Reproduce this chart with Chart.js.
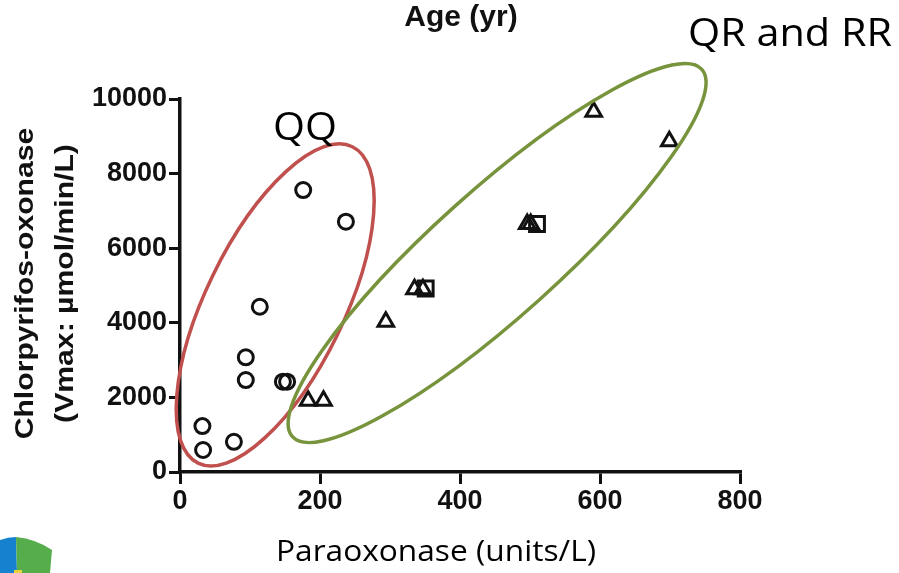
<!DOCTYPE html>
<html>
<head>
<meta charset="utf-8">
<script src="https://cdn.jsdelivr.net/npm/chart.js@4.4.1/dist/chart.umd.min.js"></script>
<style>
  html, body { margin: 0; padding: 0; background: #fff; }
</style>
</head>
<body>
<canvas id="chart" width="899" height="573"></canvas>
<script>
// QQ genotype (circles)
const qqX = [32, 33, 77, 94, 94, 114, 147, 153, 176, 237];
const qqY = [1230, 590, 810, 3075, 2465, 4430, 2420, 2420, 7560, 6710];
// QR genotype (triangles)
const qrX = [183, 205, 294, 335, 347, 496, 501, 591, 699];
const qrY = [1910, 1910, 4030, 4900, 4900, 6650, 6650, 9660, 8870];
// RR genotype (squares)
const rrX = [351, 510];
const rrY = [4920, 6650];

const xTicks = [0, 200, 400, 600, 800];
const yTicks = [0, 2000, 4000, 6000, 8000, 10000];

const ink = '#111';

function points(xs, ys) {
    return xs.map((x, i) => ({ x: x, y: ys[i] }));
}

// group outlines, centre in data units, radii in px
const groups = [
    { x: 136, y: 4480, rx: 176, ry: 69, rot: -64, color: '#c0504d' },
    { x: 453, y: 5870, rx: 275, ry: 63, rot: -41.9, color: '#77933c' }
];

// draw text squeezed/stretched to a given width
function fitText(ctx, text, x, y, width) {
    const w = ctx.measureText(text).width;
    ctx.save();
    ctx.translate(x, y);
    ctx.scale(width / w, 1);
    ctx.fillText(text, 0, 0);
    ctx.restore();
}

const decor = {
    id: 'decor',
    afterDatasetsDraw(chart) {
        const ctx = chart.ctx;
        const xs = chart.scales.x, ys = chart.scales.y;
        ctx.save();
        groups.forEach(g => {
            ctx.beginPath();
            ctx.ellipse(xs.getPixelForValue(g.x), ys.getPixelForValue(g.y), g.rx, g.ry,
                g.rot * Math.PI / 180, 0, 2 * Math.PI);
            ctx.strokeStyle = g.color;
            ctx.lineWidth = 3.5;
            ctx.stroke();
        });
        ctx.restore();
    },
    afterDraw(chart) {
        const ctx = chart.ctx;
        ctx.save();
        ctx.fillStyle = '#000';
        ctx.textAlign = 'left';
        ctx.textBaseline = 'alphabetic';

        // group labels
        ctx.font = '38px "Open Sans"';
        fitText(ctx, 'QQ', 273, 140, 64);
        ctx.font = '39px "Open Sans"';
        fitText(ctx, 'QR and RR', 688, 46, 204);

        // x axis title
        ctx.font = '30px "Open Sans"';
        fitText(ctx, 'Paraoxonase (units/L)', 276, 561, 320);

        // panel heading
        ctx.fillStyle = ink;
        ctx.font = 'bold 30px "Liberation Sans"';
        ctx.textAlign = 'center';
        ctx.fillText('Age (yr)', 461, 26);

        // y axis title, stretched along its length like the source figure
        const mid = (chart.chartArea.top + chart.chartArea.bottom) / 2 - 2;
        ctx.font = 'bold 26px "Liberation Sans"';
        [['Chlorpyrifos-oxonase', 33], ['(Vmax: \u00b5mol/min/L)', 73]].forEach(([t, bx]) => {
            ctx.save();
            ctx.translate(bx, mid);
            ctx.rotate(-Math.PI / 2);
            ctx.scale(1.16, 1);
            ctx.fillText(t, 0, 0);
            ctx.restore();
        });

        // logo fragment bottom-left
        ctx.fillStyle = '#1581cf';
        ctx.beginPath();
        ctx.moveTo(0, 540);
        ctx.quadraticCurveTo(8, 537, 16, 537);
        ctx.lineTo(17, 573);
        ctx.lineTo(0, 573);
        ctx.closePath();
        ctx.fill();
        ctx.fillStyle = '#56ad4b';
        ctx.beginPath();
        ctx.moveTo(16, 537);
        ctx.quadraticCurveTo(36, 539, 52, 550);
        ctx.lineTo(50, 573);
        ctx.lineTo(17, 573);
        ctx.closePath();
        ctx.fill();
        ctx.fillStyle = '#e8d23a';
        ctx.fillRect(14, 570, 8, 3);
        ctx.restore();
    }
};

const tickFont = { family: '"Liberation Sans", Arial, sans-serif', size: 27, weight: 'bold' };
const plain = v => String(v);

new Chart(document.getElementById('chart').getContext('2d'), {
    type: 'scatter',
    data: {
        datasets: [{
            label: 'QQ',
            data: points(qqX, qqY),
            pointStyle: 'circle',
            pointRadius: 7.5,
            borderColor: ink,
            borderWidth: 3,
            backgroundColor: 'rgba(255,255,255,0)'
        }, {
            label: 'QR',
            data: points(qrX, qrY),
            pointStyle: 'triangle',
            pointRadius: 9,
            borderColor: ink,
            borderWidth: 3,
            backgroundColor: 'rgba(255,255,255,0)'
        }, {
            label: 'RR',
            data: points(rrX, rrY),
            pointStyle: 'rect',
            pointRadius: 10.5,
            borderColor: ink,
            borderWidth: 3,
            backgroundColor: 'rgba(255,255,255,0)'
        }]
    },
    options: {
        responsive: false,
        animation: false,
        layout: { padding: { top: 99, right: 159, left: 0, bottom: 0 } },
        plugins: { legend: { display: false }, tooltip: { enabled: false } },
        scales: {
            x: {
                type: 'linear',
                min: xTicks[0],
                max: xTicks[xTicks.length - 1],
                afterBuildTicks: s => { s.ticks = xTicks.map(v => ({ value: v })); },
                afterFit: s => { s.height = 101; },
                ticks: { font: tickFont, color: ink, padding: 1, callback: plain },
                grid: { drawOnChartArea: false, drawTicks: true, tickLength: 12, color: ink, lineWidth: 3 },
                border: { color: ink, width: 3.5 }
            },
            y: {
                type: 'linear',
                min: yTicks[0],
                max: yTicks[yTicks.length - 1],
                afterBuildTicks: s => { s.ticks = yTicks.map(v => ({ value: v })); },
                afterFit: s => { s.width = 180; },
                ticks: { font: tickFont, color: ink, padding: 2, callback: plain },
                grid: { drawOnChartArea: false, drawTicks: true, tickLength: 11, color: ink, lineWidth: 3 },
                border: { color: ink, width: 3.5 }
            }
        }
    },
    plugins: [decor]
});
</script>
</body>
</html>
